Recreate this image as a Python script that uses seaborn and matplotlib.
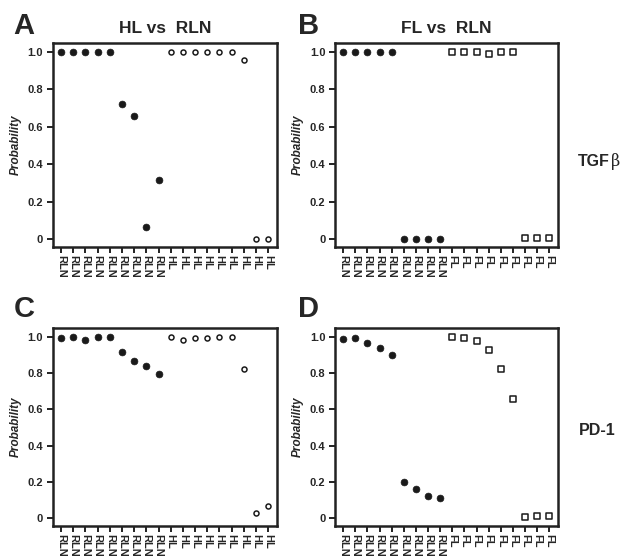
import matplotlib
matplotlib.use("Agg")
import matplotlib.pyplot as plt
import seaborn as sns
import pandas as pd
import numpy as np

sns.set_style("ticks")
plt.rcParams["font.family"] = ["Liberation Sans", "DejaVu Sans"]
plt.rcParams["font.weight"] = "bold"

# ----------------------------
# Data
# ----------------------------
rln_labels = ["RLN"] * 9
hl_labels = ["HL"] * 9
fl_labels = ["FL"] * 9

# TGFb
a_rln = [1.0, 1.0, 1.0, 1.0, 1.0, 0.72, 0.657, 0.063, 0.313]
a_hl = [1.0, 1.0, 1.0, 1.0, 1.0, 1.0, 0.956, 0.0, 0.0]
b_rln = [1.0, 1.0, 1.0, 1.0, 1.0, 0.0, 0.0, 0.0, 0.0]
b_fl = [1.0, 1.0, 1.0, 0.99, 1.0, 1.0, 0.004, 0.004, 0.004]

# PD-1
c_rln = [0.996, 1.0, 0.982, 1.0, 1.0, 0.914, 0.869, 0.840, 0.795]
c_hl = [1.0, 0.984, 0.996, 0.996, 1.0, 1.0, 0.824, 0.029, 0.066]
d_rln = [0.987, 0.996, 0.968, 0.941, 0.899, 0.199, 0.160, 0.120, 0.111]
d_fl = [1.0, 0.991, 0.977, 0.928, 0.824, 0.657, 0.005, 0.009, 0.013]

y_ticks = [0, 0.2, 0.4, 0.6, 0.8, 1.0]
y_tick_labels = ["0", "0.2", "0.4", "0.6", "0.8", "1.0"]


def draw_panel(ax, ref_vals, cmp_vals, cmp_labels, cmp_marker, title=None):
    labels = rln_labels + cmp_labels
    df = pd.DataFrame({
        "pos": np.arange(len(labels)),
        "prob": ref_vals + cmp_vals,
        "group": ["ref"] * len(ref_vals) + ["cmp"] * len(cmp_vals),
    })
    ref = df[df["group"] == "ref"]
    cmp_ = df[df["group"] == "cmp"]
    sns.scatterplot(data=ref, x="pos", y="prob", ax=ax, marker="o", s=24,
                    color="#1a1a1a", edgecolor="#1a1a1a", linewidth=0.5, legend=False)
    sns.scatterplot(data=cmp_, x="pos", y="prob", ax=ax, marker=cmp_marker,
                    s=13 if cmp_marker == "o" else 19,
                    facecolor="white", edgecolor="#1a1a1a", linewidth=1.1, legend=False)

    ax.set_xlim(-0.66, 17.74)
    ax.set_ylim(-0.043, 1.048)
    ax.set_xticks(df["pos"])
    ax.set_xticklabels(labels, rotation=-90, fontsize=8, fontweight="bold",
                       va="top", ha="center")
    ax.set_yticks(y_ticks)
    ax.set_yticklabels(y_tick_labels, fontsize=8, fontweight="bold")
    ax.set_xlabel("")
    ax.set_ylabel("Probability", fontsize=8.5, fontstyle="italic", fontweight="bold", labelpad=4)
    ax.tick_params(axis="both", direction="out", length=4, width=1.4, color="#222222", pad=3)
    ax.tick_params(axis="x", pad=2)
    for sp in ax.spines.values():
        sp.set_visible(True)
        sp.set_linewidth(1.8)
        sp.set_color("#222222")
    if title:
        ax.set_title(title, fontsize=12.5, fontweight="bold", pad=7)


fig = plt.figure(figsize=(6.23, 5.6), dpi=100)
ax_a = fig.add_axes([0.085, 0.559, 0.360, 0.364])
ax_b = fig.add_axes([0.538, 0.559, 0.358, 0.364])
ax_c = fig.add_axes([0.085, 0.061, 0.360, 0.353])
ax_d = fig.add_axes([0.538, 0.061, 0.358, 0.353])

draw_panel(ax_a, a_rln, a_hl, hl_labels, "o", "HL vs  RLN")
draw_panel(ax_b, b_rln, b_fl, fl_labels, "s", "FL vs  RLN")
draw_panel(ax_c, c_rln, c_hl, hl_labels, "o")
draw_panel(ax_d, d_rln, d_fl, fl_labels, "s")

# panel letters
for lbl, x, y in [("A", 0.022, 0.978), ("B", 0.478, 0.978),
                  ("C", 0.022, 0.473), ("D", 0.478, 0.473)]:
    fig.text(x, y, lbl, fontsize=21, fontweight="bold", va="top", ha="left")

# row labels
tgf = fig.text(0.928, 0.711, "TGF", fontsize=11.5, fontweight="bold",
               va="center", ha="left")
ax_b.annotate("β", xy=(1.0, 0.5), xycoords=tgf, xytext=(0.5, 0),
              textcoords="offset points", fontsize=11.5, fontweight="normal",
              va="center", ha="left", family=["DejaVu Serif"], annotation_clip=False)
fig.text(0.929, 0.232, "PD-1", fontsize=11.5, fontweight="bold", va="center", ha="left")

fig.savefig("out.png", dpi=100)
